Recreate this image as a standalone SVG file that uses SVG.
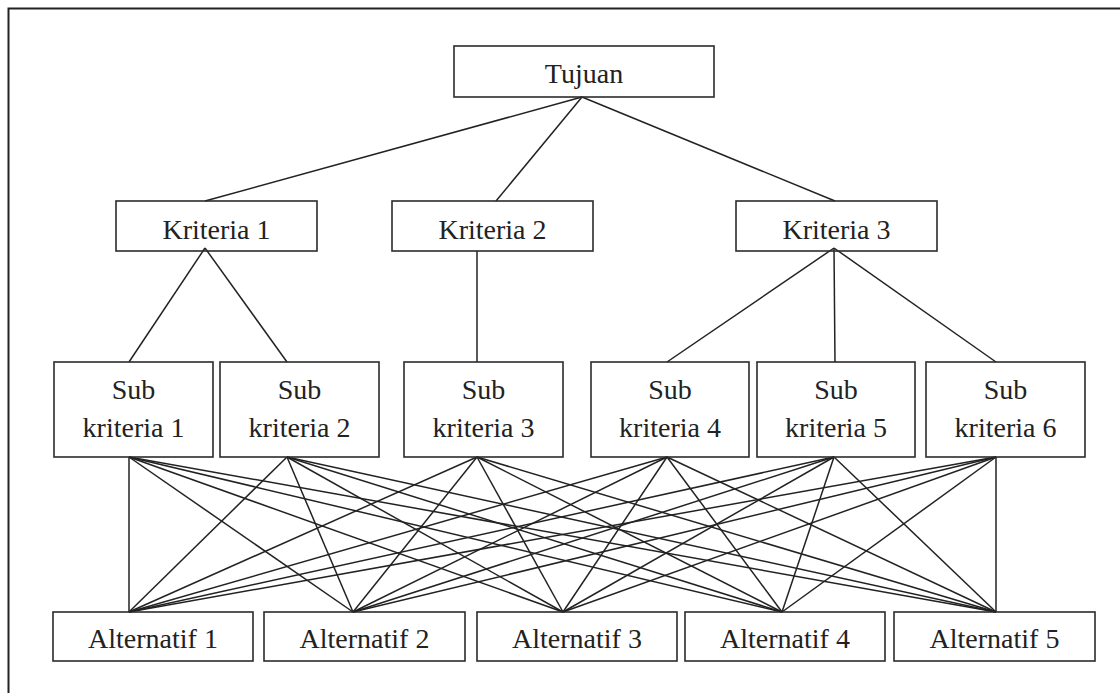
<svg xmlns="http://www.w3.org/2000/svg" width="1120" height="693" viewBox="0 0 1120 693">
<style>
.box{fill:none;stroke:#2b2b2b;stroke-width:1.6}
.t{font-family:"Liberation Serif","Times New Roman",serif;font-size:28px;fill:#222;text-anchor:middle}
.c line{stroke:#222;stroke-width:1.5}
</style>
<rect width="1120" height="693" fill="#fff"/>
<path d="M8.5,693 V8.5 H1120" fill="none" stroke="#222" stroke-width="2"/>
<g class="c" id="connectors">
<line x1="582" y1="97" x2="205" y2="201"/>
<line x1="582" y1="97" x2="496" y2="201"/>
<line x1="582" y1="97" x2="835" y2="201"/>
<line x1="205" y1="248" x2="129" y2="362"/>
<line x1="205" y1="248" x2="287" y2="362"/>
<line x1="477" y1="251" x2="477" y2="362"/>
<line x1="834" y1="248" x2="667" y2="362"/>
<line x1="834" y1="248" x2="835" y2="362"/>
<line x1="834" y1="248" x2="996" y2="362"/>
<line x1="129" y1="457" x2="129" y2="612"/><line x1="129" y1="457" x2="353" y2="612"/><line x1="129" y1="457" x2="563" y2="612"/><line x1="129" y1="457" x2="782" y2="612"/><line x1="129" y1="457" x2="996" y2="612"/>
<line x1="287" y1="457" x2="129" y2="612"/><line x1="287" y1="457" x2="353" y2="612"/><line x1="287" y1="457" x2="563" y2="612"/><line x1="287" y1="457" x2="782" y2="612"/><line x1="287" y1="457" x2="996" y2="612"/>
<line x1="477" y1="457" x2="129" y2="612"/><line x1="477" y1="457" x2="353" y2="612"/><line x1="477" y1="457" x2="563" y2="612"/><line x1="477" y1="457" x2="782" y2="612"/><line x1="477" y1="457" x2="996" y2="612"/>
<line x1="667" y1="457" x2="129" y2="612"/><line x1="667" y1="457" x2="353" y2="612"/><line x1="667" y1="457" x2="563" y2="612"/><line x1="667" y1="457" x2="782" y2="612"/><line x1="667" y1="457" x2="996" y2="612"/>
<line x1="834" y1="457" x2="129" y2="612"/><line x1="834" y1="457" x2="353" y2="612"/><line x1="834" y1="457" x2="563" y2="612"/><line x1="834" y1="457" x2="782" y2="612"/><line x1="834" y1="457" x2="996" y2="612"/>
<line x1="996" y1="457" x2="129" y2="612"/><line x1="996" y1="457" x2="353" y2="612"/><line x1="996" y1="457" x2="563" y2="612"/><line x1="996" y1="457" x2="782" y2="612"/><line x1="996" y1="457" x2="996" y2="612"/>
</g>
<g id="tujuan"><rect class="box" x="454" y="46" width="260" height="51"/><text class="t" x="584" y="83">Tujuan</text></g>
<g id="kriteria1"><rect class="box" x="116" y="201" width="201" height="50"/><text class="t" x="216.5" y="239">Kriteria 1</text></g>
<g id="kriteria2"><rect class="box" x="392" y="201" width="201" height="50"/><text class="t" x="492.5" y="239">Kriteria 2</text></g>
<g id="kriteria3"><rect class="box" x="736" y="201" width="201" height="50"/><text class="t" x="836.5" y="239">Kriteria 3</text></g>
<g id="sub1"><rect class="box" x="54" y="362" width="159" height="95"/><text class="t" x="133.5" y="399">Sub</text><text class="t" x="133.5" y="437">kriteria 1</text></g>
<g id="sub2"><rect class="box" x="220" y="362" width="159" height="95"/><text class="t" x="299.5" y="399">Sub</text><text class="t" x="299.5" y="437">kriteria 2</text></g>
<g id="sub3"><rect class="box" x="404" y="362" width="159" height="95"/><text class="t" x="483.5" y="399">Sub</text><text class="t" x="483.5" y="437">kriteria 3</text></g>
<g id="sub4"><rect class="box" x="591" y="362" width="158" height="95"/><text class="t" x="670" y="399">Sub</text><text class="t" x="670" y="437">kriteria 4</text></g>
<g id="sub5"><rect class="box" x="757" y="362" width="158" height="95"/><text class="t" x="836" y="399">Sub</text><text class="t" x="836" y="437">kriteria 5</text></g>
<g id="sub6"><rect class="box" x="926" y="362" width="159" height="95"/><text class="t" x="1005.5" y="399">Sub</text><text class="t" x="1005.5" y="437">kriteria 6</text></g>
<g id="alt1"><rect class="box" x="53" y="612" width="200" height="49"/><text class="t" x="153" y="648">Alternatif 1</text></g>
<g id="alt2"><rect class="box" x="264" y="612" width="201" height="49"/><text class="t" x="364.5" y="648">Alternatif 2</text></g>
<g id="alt3"><rect class="box" x="477" y="612" width="200" height="49"/><text class="t" x="577" y="648">Alternatif 3</text></g>
<g id="alt4"><rect class="box" x="685" y="612" width="200" height="49"/><text class="t" x="785" y="648">Alternatif 4</text></g>
<g id="alt5"><rect class="box" x="894" y="612" width="201" height="49"/><text class="t" x="994.5" y="648">Alternatif 5</text></g>
</svg>
